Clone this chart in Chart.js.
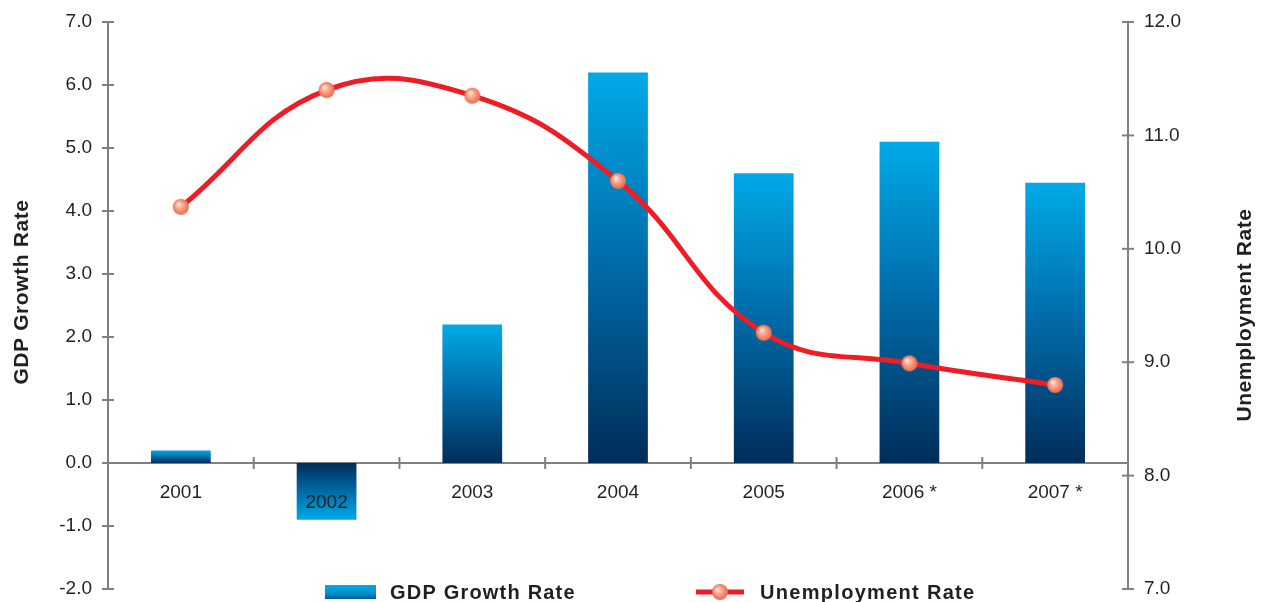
<!DOCTYPE html>
<html>
<head>
<meta charset="utf-8">
<title>GDP Growth and Unemployment</title>
<script src="https://cdn.jsdelivr.net/npm/chart.js@4.4.1/dist/chart.umd.min.js"></script>
<style>
    html, body { margin: 0; padding: 0; background: #fff; }
    .chart-wrap { position: relative; width: 1264px; height: 602px; }
</style>
</head>
<body>
<div class="chart-wrap"><canvas id="gdpChart"></canvas></div>
<script>
const years = ['2001', '2002', '2003', '2004', '2005', '2006 *', '2007 *'];
const gdpGrowth = [0.2, -0.9, 2.2, 6.2, 4.6, 5.1, 4.45];
const unemployment = [10.37, 11.4, 11.35, 10.6, 9.26, 8.99, 8.8];

const gdpRange = { min: -2, max: 7, step: 1 };
const unemploymentRange = { min: 7, max: 12, step: 1 };

const gdpLabel = 'GDP Growth Rate';
const unemploymentLabel = 'Unemployment Rate';

(function() {
    'use strict';

    const FONT = '"Liberation Sans", Arial, Helvetica, sans-serif';
    const TEXT = '#231f20';
    const AXIS = '#808080';
    const RED = '#ee1d25';
    const BAR_LIGHT = '#00aae8';
    const BAR_DARK = '#002d5a';

    // little shaded ball used for the line markers
    function drawSphere(ctx, x, y, r) {
        const g = ctx.createRadialGradient(x - r * 0.35, y - r * 0.4, 0, x, y, r * 1.05);
        g.addColorStop(0, '#fff3ec');
        g.addColorStop(0.35, '#fbb59c');
        g.addColorStop(0.8, '#f07b5d');
        g.addColorStop(1, '#e66a4c');
        ctx.fillStyle = g;
        ctx.beginPath();
        ctx.arc(x, y, r, 0, Math.PI * 2);
        ctx.fill();
    }

    function makeMarker(r) {
        const c = document.createElement('canvas');
        c.width = c.height = r * 2 + 2;
        drawSphere(c.getContext('2d'), r + 1, r + 1, r);
        return c;
    }

    function barGradient(context) {
        const chart = context.chart;
        if (!chart.chartArea || context.type !== 'data') return BAR_LIGHT;
        const y = chart.scales.y;
        const base = y.getPixelForValue(0);
        const tip = y.getPixelForValue(context.raw);
        if (Math.abs(tip - base) < 1) return BAR_LIGHT;
        const g = chart.ctx.createLinearGradient(0, base, 0, tip);
        g.addColorStop(0, BAR_DARK);
        g.addColorStop(0.55, '#0070ae');
        g.addColorStop(1, BAR_LIGHT);
        return g;
    }

    function line(ctx, x1, y1, x2, y2) {
        ctx.beginPath();
        ctx.moveTo(x1, y1);
        ctx.lineTo(x2, y2);
        ctx.stroke();
    }

    // fixed axis widths; edge labels are allowed to hang over the padding
    function fixWidth(w) {
        return function(scale) {
            scale.width = w;
            scale.paddingTop = 0;
            scale.paddingBottom = 0;
        };
    }

    // tick marks, category labels, axis titles and the legend row
    const decorPlugin = {
        id: 'decor',
        afterDraw(chart) {
            const ctx = chart.ctx;
            const area = chart.chartArea;
            const xs = chart.scales.x, ys = chart.scales.y, y2s = chart.scales.y2;
            const zeroY = ys.getPixelForValue(0);

            ctx.save();
            ctx.strokeStyle = AXIS;
            ctx.lineWidth = 2;
            ys.ticks.forEach(function(t, i) {
                const py = ys.getPixelForTick(i);
                line(ctx, area.left - 6, py, area.left + 6, py);
            });
            y2s.ticks.forEach(function(t, i) {
                const py = y2s.getPixelForTick(i);
                line(ctx, area.right - 6, py, area.right + 6, py);
            });
            for (let i = 1; i < years.length; i++) {
                const px = xs.getPixelForValue(i - 0.5);
                line(ctx, px, zeroY - 6, px, zeroY + 6);
            }

            // year labels; a label that falls inside a negative bar sits a bit lower
            ctx.fillStyle = TEXT;
            ctx.font = '19px ' + FONT;
            ctx.textAlign = 'center';
            ctx.textBaseline = 'middle';
            years.forEach(function(label, i) {
                const px = xs.getPixelForValue(i);
                const dy = gdpGrowth[i] < 0 ? 40 : 30;
                ctx.fillText(label, px, zeroY + dy);
            });

            // axis titles, both reading bottom to top
            ctx.font = 'bold 21px ' + FONT;
            ctx.letterSpacing = '0.6px';
            ctx.save();
            ctx.translate(22, 292);
            ctx.rotate(-Math.PI / 2);
            ctx.fillText(gdpLabel, 0, 0);
            ctx.restore();
            ctx.save();
            ctx.translate(1245, 315);
            ctx.rotate(-Math.PI / 2);
            ctx.fillText(unemploymentLabel, 0, 0);
            ctx.restore();

            // legend
            const ly = 592;
            const box = ctx.createLinearGradient(0, ly - 7, 0, ly + 7);
            box.addColorStop(0, BAR_LIGHT);
            box.addColorStop(0.6, '#0090cc');
            box.addColorStop(1, '#005a94');
            ctx.fillStyle = box;
            ctx.fillRect(325, ly - 7, 51, 14);

            ctx.strokeStyle = RED;
            ctx.lineWidth = 5;
            line(ctx, 696, ly, 744, ly);
            drawSphere(ctx, 720, ly, 8);

            ctx.fillStyle = TEXT;
            ctx.textAlign = 'left';
            ctx.font = 'bold 20px ' + FONT;
            ctx.letterSpacing = '1.2px';
            ctx.fillText(gdpLabel, 390, ly + 1);
            ctx.letterSpacing = '1.3px';
            ctx.fillText(unemploymentLabel, 760, ly + 1);
            ctx.restore();
        }
    };

    function initChart() {
        const el = document.getElementById('gdpChart');
        if (!el) return;

        const tickFont = { family: FONT, size: 19 };

        new Chart(el, {
            type: 'bar',
            data: {
                labels: years,
                datasets: [{
                    type: 'line',
                    label: unemploymentLabel,
                    data: unemployment,
                    yAxisID: 'y2',
                    order: 1,
                    borderColor: RED,
                    borderWidth: 5,
                    tension: 0.42,
                    fill: false,
                    pointStyle: makeMarker(8),
                    pointRadius: 8
                }, {
                    type: 'bar',
                    label: gdpLabel,
                    data: gdpGrowth,
                    yAxisID: 'y',
                    order: 2,
                    backgroundColor: barGradient,
                    borderWidth: 0,
                    barPercentage: 0.41,
                    categoryPercentage: 1
                }]
            },
            options: {
                responsive: true,
                maintainAspectRatio: false,
                animation: false,
                layout: { padding: { top: 22, bottom: 13, left: 0, right: 0 } },
                plugins: {
                    legend: { display: false },
                    tooltip: { enabled: false }
                },
                scales: {
                    x: {
                        position: { y: 0 },
                        offset: true,
                        grid: { display: false },
                        border: { display: true, color: AXIS, width: 2 },
                        ticks: { display: false },
                        afterFit: function(scale) {
                            scale.height = 0;
                            scale.paddingLeft = 0;
                            scale.paddingRight = 0;
                        }
                    },
                    y: {
                        position: 'left',
                        min: gdpRange.min,
                        max: gdpRange.max,
                        grid: { display: false },
                        border: { color: AXIS, width: 2 },
                        ticks: {
                            stepSize: gdpRange.step,
                            padding: 8,
                            color: TEXT,
                            font: tickFont,
                            callback: function(v) { return v.toFixed(1); }
                        },
                        afterFit: fixWidth(108)
                    },
                    y2: {
                        position: 'right',
                        min: unemploymentRange.min,
                        max: unemploymentRange.max,
                        grid: { display: false },
                        border: { color: AXIS, width: 2 },
                        ticks: {
                            stepSize: unemploymentRange.step,
                            padding: 8,
                            color: TEXT,
                            font: tickFont,
                            callback: function(v) { return v.toFixed(1); }
                        },
                        afterFit: fixWidth(136)
                    }
                }
            },
            plugins: [decorPlugin]
        });
    }

    initChart();
})();
</script>
</body>
</html>
